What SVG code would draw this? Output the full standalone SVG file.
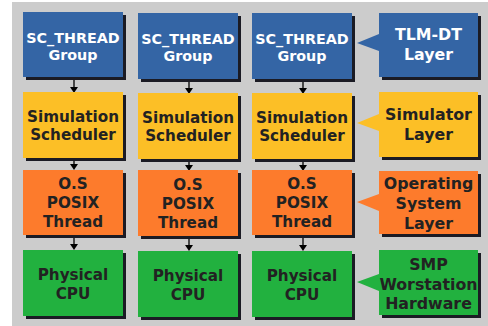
<svg xmlns="http://www.w3.org/2000/svg" width="488" height="326" viewBox="0 0 488 326">
<defs>
<style>
.bg{fill:#cccccc}
.sh{fill:#1b1b24}
.blue{fill:#3465a5}
.yel{fill:#fcbf26}
.org{fill:#fd7b2c}
.grn{fill:#22b13f}
text{font-family:"DejaVu Sans",sans-serif;font-weight:bold;text-anchor:middle}
.w{fill:#ffffff}
.d{fill:#222222}
.r1{font-size:14.3px}
.r2{font-size:15.2px}
.co{font-size:15.8px}
.ln{stroke:#000;stroke-width:1.3;fill:none}
.ah{fill:#000}
</style>
</defs>
<rect class="bg" x="12" y="2" width="476" height="324"/>

<g id="connectors">
<line class="ln" x1="74" y1="78" x2="74" y2="88"/><polygon class="ah" points="70,87 78,87 74,93"/>
<line class="ln" x1="189" y1="79" x2="189" y2="89"/><polygon class="ah" points="185,88 193,88 189,94"/>
<line class="ln" x1="303" y1="79" x2="303" y2="89"/><polygon class="ah" points="299,88 307,88 303,94"/>
<line class="ln" x1="74" y1="158" x2="74" y2="165"/><polygon class="ah" points="70,164 78,164 74,170"/>
<line class="ln" x1="189" y1="159" x2="189" y2="166"/><polygon class="ah" points="185,165 193,165 189,171"/>
<line class="ln" x1="303" y1="159" x2="303" y2="166"/><polygon class="ah" points="299,165 307,165 303,171"/>
<line class="ln" x1="74" y1="236" x2="74" y2="245"/><polygon class="ah" points="70,244 78,244 74,250"/>
<line class="ln" x1="189" y1="237" x2="189" y2="246"/><polygon class="ah" points="185,245 193,245 189,251"/>
<line class="ln" x1="303" y1="237" x2="303" y2="246"/><polygon class="ah" points="299,245 307,245 303,251"/>
</g>

<g id="sc1"><rect class="sh" x="26" y="15" width="100" height="65"/><rect class="blue" x="23" y="12" width="100" height="65"/>
<text class="w r1" x="73" y="43">SC_THREAD</text><text class="w r1" x="73" y="60">Group</text></g>
<g id="sc2"><rect class="sh" x="141" y="16" width="100" height="66"/><rect class="blue" x="138" y="13" width="100" height="66"/>
<text class="w r1" x="188" y="44">SC_THREAD</text><text class="w r1" x="188" y="61">Group</text></g>
<g id="sc3"><rect class="sh" x="255" y="16" width="100" height="66"/><rect class="blue" x="252" y="13" width="100" height="66"/>
<text class="w r1" x="302" y="44">SC_THREAD</text><text class="w r1" x="302" y="61">Group</text></g>
<g id="tlm"><rect class="sh" x="382" y="16" width="99" height="64"/><path class="blue" d="M379,13H478V77H379V51L357,43L379,34Z"/>
<text class="w co" x="428.5" y="39.5">TLM-DT</text><text class="w co" x="428.5" y="59.5">Layer</text></g>

<g id="sim1"><rect class="sh" x="26" y="95" width="100" height="66"/><rect class="yel" x="23" y="92" width="100" height="66"/>
<text class="d r2" x="73" y="121.5">Simulation</text><text class="d r2" x="73" y="140">Scheduler</text></g>
<g id="sim2"><rect class="sh" x="141" y="96" width="100" height="66"/><rect class="yel" x="138" y="93" width="100" height="66"/>
<text class="d r2" x="188" y="122.5">Simulation</text><text class="d r2" x="188" y="141">Scheduler</text></g>
<g id="sim3"><rect class="sh" x="255" y="96" width="100" height="66"/><rect class="yel" x="252" y="93" width="100" height="66"/>
<text class="d r2" x="302" y="122.5">Simulation</text><text class="d r2" x="302" y="141">Scheduler</text></g>
<g id="simlayer"><rect class="sh" x="382" y="95" width="99" height="65"/><path class="yel" d="M379,92H478V157H379V131L357,123L379,114Z"/>
<text class="d co" x="428.5" y="120">Simulator</text><text class="d co" x="428.5" y="139.5">Layer</text></g>

<g id="os1"><rect class="sh" x="26" y="173" width="100" height="65"/><rect class="org" x="23" y="170" width="100" height="65"/>
<text class="d r2" x="73" y="189">O.S</text><text class="d r2" x="73" y="208">POSIX</text><text class="d r2" x="73" y="227">Thread</text></g>
<g id="os2"><rect class="sh" x="141" y="173" width="100" height="66"/><rect class="org" x="138" y="170" width="100" height="66"/>
<text class="d r2" x="188" y="189.5">O.S</text><text class="d r2" x="188" y="208.5">POSIX</text><text class="d r2" x="188" y="227.5">Thread</text></g>
<g id="os3"><rect class="sh" x="255" y="173" width="100" height="65"/><rect class="org" x="252" y="170" width="100" height="65"/>
<text class="d r2" x="302" y="189">O.S</text><text class="d r2" x="302" y="208">POSIX</text><text class="d r2" x="302" y="227">Thread</text></g>
<g id="oslayer"><rect class="sh" x="382" y="174" width="99" height="63"/><path class="org" d="M379,171H478V234H379V211L357,202L379,194Z"/>
<text class="d co" x="428.5" y="188.5">Operating</text><text class="d co" x="428.5" y="208.5">System</text><text class="d co" x="428.5" y="228.5">Layer</text></g>

<g id="cpu1"><rect class="sh" x="26" y="253" width="100" height="66"/><rect class="grn" x="23" y="250" width="100" height="66"/>
<text class="d r2" x="73" y="279.5">Physical</text><text class="d r2" x="73" y="298.5">CPU</text></g>
<g id="cpu2"><rect class="sh" x="141" y="254" width="100" height="66"/><rect class="grn" x="138" y="251" width="100" height="66"/>
<text class="d r2" x="188" y="280.5">Physical</text><text class="d r2" x="188" y="299.5">CPU</text></g>
<g id="cpu3"><rect class="sh" x="255" y="254" width="100" height="66"/><rect class="grn" x="252" y="251" width="100" height="66"/>
<text class="d r2" x="302" y="280.5">Physical</text><text class="d r2" x="302" y="299.5">CPU</text></g>
<g id="smp"><rect class="sh" x="382" y="253" width="99" height="65"/><path class="grn" d="M379,250H478V315H379V291L357,282L379,274Z"/>
<text class="d co" x="428.5" y="270">SMP</text><text class="d co" x="428.5" y="289.5">Worstation</text><text class="d co" x="428.5" y="308.5">Hardware</text></g>
</svg>
